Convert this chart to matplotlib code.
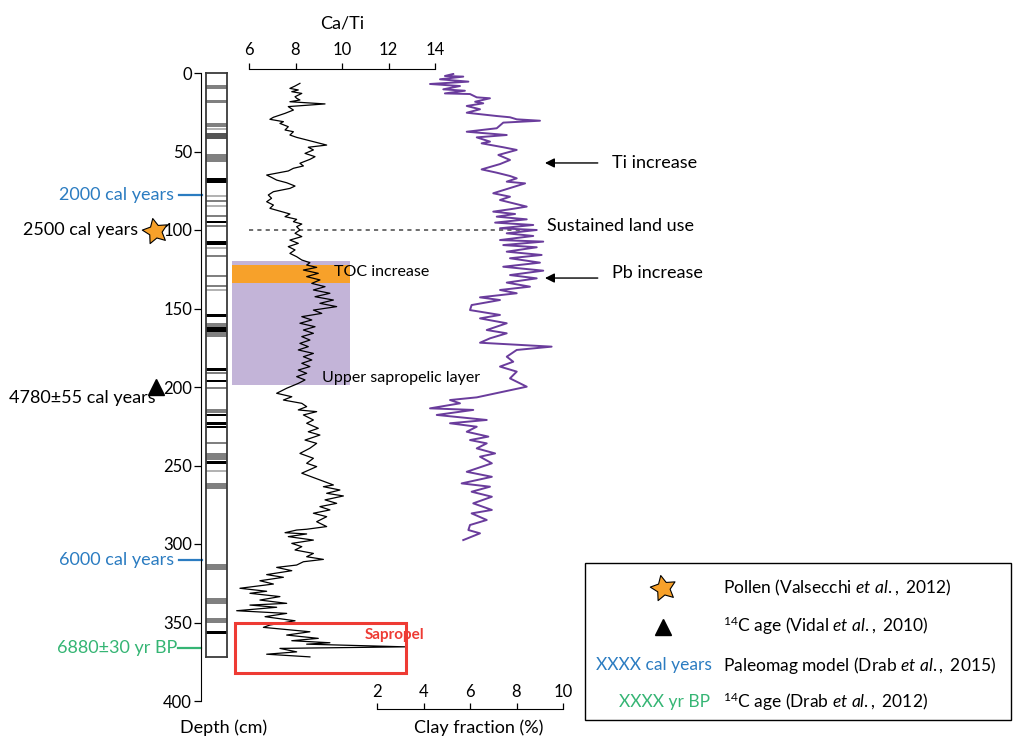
import matplotlib
matplotlib.use('Agg')
import matplotlib.pyplot as plt
import matplotlib.transforms as mtransforms
from matplotlib.patches import Rectangle
from matplotlib.path import Path
import numpy as np

plt.rcParams['font.family'] = ['Lato', 'DejaVu Sans']
plt.rcParams['mathtext.fontset'] = 'custom'
plt.rcParams['mathtext.rm'] = 'Lato'
plt.rcParams['mathtext.it'] = 'Lato:italic'

# Ca/Ti record (depth in cm, ratio)
cati_depth = [6.6, 8.3, 9.8, 10.8, 11.9, 13.0, 15.1, 16.1, 17.2, 18.3, 19.7, 21.4, 23.6, 25.7, 28.2, 29.5,
              31.0, 32.1, 34.2, 36.3, 37.4, 39.5, 41.0, 43.7, 45.9, 47.3, 49.0, 51.2, 53.3, 55.0, 57.5, 59.2,
              60.7, 62.4, 65.0, 66.5, 68.2, 69.9, 72.0, 73.5, 75.6, 77.7, 79.8, 82.0, 84.1, 86.2, 88.3, 89.8,
              91.5, 93.2, 94.7, 96.2, 97.9, 100.0, 102.1, 104.2, 106.4, 108.5, 110.6, 112.7, 114.9, 117.0,
              119.1, 120.8, 122.3, 123.8, 125.5, 127.6, 129.7, 131.8, 134.0, 136.1, 138.2, 140.3, 142.5,
              144.6, 146.7, 148.8, 151.0, 153.1, 155.2, 157.3, 159.4, 161.6, 163.7, 165.8, 167.9, 170.1,
              172.2, 174.3, 176.4, 178.6, 180.7, 182.8, 184.9, 187.0, 189.2, 191.3, 193.4, 195.5,
              197.7, 200.8, 204.0, 206.2, 208.3, 210.4, 212.5, 214.6, 215.7, 217.8, 221.0, 223.1, 226.3,
              228.5, 230.6, 233.8, 235.9, 239.0, 242.3, 245.4, 248.6, 250.7, 254.9, 259.2, 262.4, 263.5,
              265.6, 267.7, 269.4, 271.9, 274.1, 276.2, 278.3, 280.4, 282.6, 285.8, 288.9, 290.6, 291.1,
              292.8, 293.6, 295.3, 297.5, 299.6, 301.7, 303.8, 306.0, 308.1, 309.8, 311.3, 313.4, 314.9,
              317.0, 319.5, 321.2, 323.4, 325.5, 328.2, 330.1, 331.4, 333.5, 335.7, 337.8, 338.9, 340.3,
              342.5, 344.2, 346.3, 348.9, 351.6, 353.1, 355.9, 358.0, 360.1, 361.6, 362.9, 363.8, 365.5,
              366.5, 368.7, 370.2, 371.9]
cati_value = [8.19, 7.98, 7.76, 8.12, 7.84, 8.27, 7.98, 8.05, 8.19, 7.76, 9.27, 7.69, 7.91, 7.55, 7.05, 6.90,
              7.48, 7.33, 7.69, 7.55, 7.91, 7.76, 8.05, 8.77, 9.34, 8.55, 8.77, 8.41, 8.84, 8.62, 8.19, 8.34,
              7.91, 7.69, 6.76, 6.97, 7.19, 7.62, 7.98, 7.76, 7.05, 6.83, 6.97, 6.76, 7.05, 6.90, 7.40, 7.76,
              7.55, 8.05, 7.91, 8.27, 8.05, 8.19, 7.98, 8.27, 7.76, 8.12, 7.69, 7.98, 7.76, 8.05,
              8.27, 8.62, 8.48, 8.91, 8.34, 8.98, 8.48, 9.05, 8.70, 9.27, 8.77, 9.48, 8.84,
              9.63, 9.05, 9.77, 8.77, 9.13, 8.27, 8.70, 8.19, 8.84, 8.34, 8.77, 8.27, 8.62,
              8.19, 8.55, 8.12, 8.77, 8.34, 8.70, 8.27, 8.62, 8.12, 8.48, 8.05, 8.41,
              8.12, 7.62, 7.19, 7.84, 7.48, 8.27, 8.48, 8.12, 8.91, 8.34, 8.77, 8.48, 8.98,
              8.55, 9.05, 8.41, 8.91, 8.62, 8.19, 8.77, 8.48, 8.91, 8.27, 9.05, 9.63, 9.20,
              9.91, 9.34, 10.06, 9.27, 9.77, 9.05, 9.48, 8.77, 9.34, 8.91, 9.34, 8.48, 8.05,
              7.55, 8.48, 7.69, 8.77, 7.84, 8.27, 7.98, 8.77, 8.48, 9.20, 8.34, 8.05, 7.19,
              7.84, 6.76, 7.48, 6.47, 7.05, 5.61, 6.76, 6.04, 7.33, 6.47, 7.62, 6.04, 7.19,
              5.47, 7.62, 6.69, 7.98, 6.90, 6.62, 8.62, 7.62, 8.98, 7.84, 9.48, 8.48, 12.71,
              7.33, 8.05, 6.76, 8.62]

# Clay fraction record (depth in cm, %)
clay_depth = [0.6, 1.9, 2.3, 4.0, 5.5, 7.0, 8.3, 10.4, 11.3, 13.0, 13.4, 15.5, 16.1, 18.3, 19.3, 21.0,
              23.1, 25.3, 27.4, 28.2, 29.5, 30.4, 31.6, 35.2, 37.4, 39.5, 41.0, 43.7, 44.8, 47.3, 49.0,
              52.2, 55.4, 58.0, 61.4, 63.5, 65.6, 67.1, 69.2, 70.3, 76.6, 78.8, 80.9, 85.1, 86.8, 88.3,
              89.8, 91.5, 93.2, 95.3, 96.8, 98.9, 100.0, 102.1, 103.8, 106.4, 107.4, 109.6, 111.0, 113.8,
              115.9, 118.0, 120.8, 123.4, 125.9, 128.7, 130.8, 133.5, 136.1, 138.2, 140.3, 142.9, 144.6,
              147.8, 151.0, 154.1, 156.3, 159.4, 163.7, 165.8, 169.0, 171.8, 174.3, 176.4, 180.7, 183.9,
              187.0, 190.2, 194.5, 199.8, 206.6, 208.3, 210.4, 213.6, 214.6, 217.8, 221.0, 223.1, 225.3,
              228.5, 231.6, 233.8, 235.9, 239.1, 242.3, 244.4, 248.6, 254.0, 257.2, 261.4, 263.5, 266.7,
              269.9, 274.1, 278.3, 280.5, 284.7, 287.9, 291.1, 293.2, 297.5]
clay_value = [5.28, 4.92, 5.71, 4.71, 5.93, 4.28, 5.57, 4.85, 5.78, 4.92, 6.00, 6.29, 6.86, 6.22, 6.57, 5.86,
              6.43, 5.86, 7.15, 7.72, 8.01, 9.01, 7.43, 7.15, 5.86, 7.58, 6.29, 6.86, 6.50, 7.43, 8.01,
              7.22, 7.72, 7.29, 6.50, 7.15, 7.72, 8.01, 7.58, 8.37, 7.00, 7.72, 7.29, 8.44, 7.72, 7.00,
              7.94, 7.15, 8.44, 7.08, 8.72, 7.29, 8.87, 7.58, 8.72, 7.29, 9.15, 7.43, 8.87, 7.58,
              9.08, 7.72, 9.01, 7.43, 9.15, 7.72, 8.87, 7.58, 8.58, 7.29, 8.01, 6.43, 7.29,
              6.07, 6.00, 7.29, 6.43, 7.58, 6.72, 7.58, 6.86, 6.43, 9.51, 8.01, 7.58, 7.86,
              7.29, 8.01, 7.72, 8.44, 6.29, 5.14, 5.57, 4.28, 6.14, 4.57, 6.72, 5.14, 6.29,
              5.86, 6.79, 6.00, 6.72, 6.29, 7.08, 6.43, 6.94, 5.86, 6.94, 5.64, 6.86, 6.07,
              6.94, 6.14, 6.94, 6.07, 6.72, 6.00, 5.93, 6.43, 5.71]

# Lithology column bands (top, bottom in cm, kind)
band_top = [7.8, 17.2, 31.8, 35.0, 38.4, 51.6, 66.9, 77.5, 80.9, 83.9, 90.2, 94.0, 97.0, 107.2, 110.8,
            115.7, 128.5, 135.2, 137.4, 153.5, 159.0, 161.6, 165.0, 188.0, 190.5, 195.3, 200.0, 214.0,
            217.0, 222.5, 224.8, 235.2, 242.0, 247.1, 253.0, 261.1, 313.0, 334.6, 347.3, 355.4]
band_bot = [10.4, 18.9, 34.2, 36.3, 41.8, 56.7, 69.9, 78.8, 82.2, 85.2, 91.5, 95.7, 98.3, 109.3, 111.9,
            117.0, 129.8, 136.5, 138.7, 155.2, 161.6, 165.0, 168.0, 190.0, 191.5, 197.0, 201.3, 216.6,
            218.7, 224.2, 226.3, 236.5, 246.3, 249.2, 254.0, 265.0, 316.4, 338.0, 350.3, 357.5]
band_kind = ['g', 'g', 'g', 'lg', 'dg', 'g', 'k', 'lg', 'g', 'lg', 'g', 'k', 'g', 'k', 'lg',
             'g', 'g', 'g', 'lg', 'k', 'g', 'k', 'g', 'k', 'g', 'k', 'g', 'g',
             'k', 'k', 'k', 'g', 'g', 'k', 'lg', 'g', 'g', 'g', 'g', 'k']
band_colors = {'k': '#000000', 'dg': '#555555', 'g': '#808080', 'lg': '#b3b3b3'}
core_bottom = 372

# age markers (depth in cm, label)
paleomag_depth = [78, 310]
paleomag_label = ['2000 cal years', '6000 cal years']
c14_drab_depth = 366
c14_drab_label = '6880\u00b130 yr BP'
pollen_depth = 100.5
pollen_label = '2500 cal years'
c14_vidal_depth = 200
c14_vidal_label = '4780\u00b155 cal years'

BLUE = '#2b7cc1'
GREEN = '#35b574'
ORANGE = '#f7a12a'
LAVENDER = '#c3b4d8'
PURPLE = '#6a3c9c'
RED = '#ee3b34'

W, H = 1013, 736
FS = 13          # main annotation size
FS_TICK = 12


def fx(px):
    return px / W


def fy(py):
    return 1 - py / H


def star_path(inner=0.5, rot=12):
    ang = np.deg2rad(np.arange(10) * 36 + 90 + rot)
    r = np.where(np.arange(10) % 2 == 0, 1.0, inner)
    verts = np.column_stack([r * np.cos(ang), r * np.sin(ang)])
    verts = np.vstack([verts, verts[:1]])
    codes = [Path.MOVETO] + [Path.LINETO] * 9 + [Path.CLOSEPOLY]
    return Path(verts, codes)


STAR = star_path()

fig = plt.figure(figsize=(W / 100, H / 100), dpi=100)

# Ca/Ti axis: 23.25 px per unit, 6 at x=249 px
px_per_unit = 23.25
x_lo = 6 + (201 - 249) / px_per_unit
x_hi = 6 + (W - 249) / px_per_unit
clay_shift = 4 + (377 - 249) / px_per_unit  # clay = Ca/Ti - shift

ax = fig.add_axes([fx(201), fy(701), fx(W) - fx(201), fy(73) - fy(701)])
ax2 = ax.twiny()
ax.set_xlim(x_lo, x_hi)
ax.set_ylim(400, 0)
ax.patch.set_visible(False)
ax.spines['right'].set_visible(False)
ax.spines['bottom'].set_visible(False)
ax.spines['left'].set_bounds(0, 400)
ax.spines['top'].set_bounds(6, 14)
ax.spines['top'].set_position(('outward', 3))
ax.xaxis.tick_top()
ax.xaxis.set_label_position('top')
ax.set_xticks([6, 8, 10, 12, 14])
ax.set_yticks(range(0, 401, 50))
ax.tick_params(axis='x', direction='out', length=4.5, width=0.9, pad=3, labelsize=FS_TICK)
ax.tick_params(axis='y', direction='out', length=5, width=0.9, pad=1.5, labelsize=FS_TICK)
ax.set_xlabel('Ca/Ti', fontsize=FS, labelpad=10, x=(10 - x_lo) / (x_hi - x_lo))

# highlighted intervals
ax.add_patch(Rectangle((5.27, 120), 5.07, 79, facecolor=LAVENDER, edgecolor='none', zorder=0))
ax.add_patch(Rectangle((5.27, 122), 5.07, 12, facecolor=ORANGE, edgecolor='none', zorder=0.5))

ax.plot(cati_value, cati_depth, color='black', lw=0.9, zorder=2)

ax2.set_xlim(x_lo - clay_shift, x_hi - clay_shift)
ax2.axis('off')
ax2.plot(clay_value, clay_depth, color=PURPLE, lw=1.4, zorder=2)

# sustained land use line
ax.plot([6, 18.38], [100, 100], color='#555555', lw=1.2, ls=(0, (2.5, 2.5)), zorder=1)
ax.text(18.82, 97.5, 'Sustained land use', fontsize=FS, va='center', ha='left')
ax.text(9.66, 126.8, 'TOC increase', fontsize=11.5, va='center', ha='left')
ax.text(9.14, 194.3, 'Upper sapropelic layer', fontsize=11.5, va='center', ha='left')

for lbl, d_arrow, d_text in [('Ti increase', 57.3, 57.3), ('Pb increase', 130.6, 127.4)]:
    ax.annotate('', xy=(18.73, d_arrow), xytext=(21.0, d_arrow),
                arrowprops=dict(arrowstyle='-|>', color='black', lw=1, mutation_scale=14,
                                shrinkA=0, shrinkB=0))
    ax.text(21.61, d_text, lbl, fontsize=FS, va='center', ha='left')

# sapropel box
ax.add_patch(Rectangle((5.40, 350.3), 7.35, 31.9, fill=False, edgecolor=RED, lw=2.2, zorder=3,
                       clip_on=False))
ax.text(10.99, 358, 'Sapropel', color=RED, fontsize=11, va='center', ha='left', fontweight='bold')

# clay fraction axis at the bottom
axc = fig.add_axes([fx(201), fy(709), fx(W) - fx(201), 0.0005])
axc.set_xlim(x_lo - clay_shift, x_hi - clay_shift)
axc.patch.set_visible(False)
for s in ['top', 'left', 'right']:
    axc.spines[s].set_visible(False)
axc.spines['bottom'].set_bounds(2, 10)
axc.set_yticks([])
axc.set_xticks([2, 4, 6, 8, 10])
axc.xaxis.set_ticks_position('bottom')
axc.tick_params(axis='x', direction='in', length=4.5, width=0.9, labelbottom=False, labeltop=True,
                pad=6, labelsize=FS_TICK)
fig.text(fx(479), fy(719), 'Clay fraction (%)', fontsize=FS, ha='center', va='top')
fig.text(fx(180), fy(719), 'Depth (cm)', fontsize=FS, ha='left', va='top')

# lithology column
axl = fig.add_axes([fx(206), fy(657), fx(227) - fx(206), fy(73) - fy(657)])
axl.set_xlim(0, 1)
axl.set_ylim(core_bottom, 0)
axl.set_xticks([])
axl.set_yticks([])
for top, bot, kind in zip(band_top, band_bot, band_kind):
    axl.axhspan(top, bot, color=band_colors[kind], lw=0)
for s in axl.spines.values():
    s.set_color('#3a3a3a')
    s.set_linewidth(1.3)

# left-side age annotations
trans = mtransforms.blended_transform_factory(fig.transFigure, ax.transData)
for d, lbl in zip(paleomag_depth, paleomag_label):
    ax.plot([fx(179), fx(202)], [d, d], transform=trans, color=BLUE, lw=1.6, clip_on=False)
    ax.text(fx(174), d, lbl, transform=trans, color=BLUE, fontsize=FS, ha='right', va='center')
ax.plot([fx(178), fx(201)], [c14_drab_depth] * 2, transform=trans, color=GREEN, lw=1.6, clip_on=False)
ax.text(fx(177), c14_drab_depth, c14_drab_label, transform=trans, color=GREEN, fontsize=FS,
        ha='right', va='center')
ax.plot([fx(155)], [pollen_depth], transform=trans, marker=STAR, ms=19, mfc=ORANGE, mec='black',
        mew=0.8, clip_on=False, zorder=5)
ax.text(fx(138), pollen_depth - 0.5, pollen_label, transform=trans, fontsize=FS, ha='right', va='center')
ax.plot([fx(156)], [c14_vidal_depth], transform=trans, marker='^', ms=12, color='black', clip_on=False,
        zorder=5)
ax.text(fx(156), c14_vidal_depth + 7, c14_vidal_label, transform=trans, fontsize=FS, ha='right',
        va='center')

# legend box
axo = fig.add_axes([0, 0, 1, 1])
axo.set_xlim(0, W)
axo.set_ylim(H, 0)
axo.axis('off')
axo.add_patch(Rectangle((585, 563), 426, 157, fill=False, edgecolor='black', lw=1))
axo.plot([663], [588], marker=STAR, ms=19, mfc=ORANGE, mec='black', mew=0.8)
axo.plot([663], [627], marker='^', ms=12, color='black')
axo.text(712, 665, 'XXXX cal years', color=BLUE, fontsize=12.5, ha='right', va='center')
axo.text(710, 702, 'XXXX yr BP', color=GREEN, fontsize=12.5, ha='right', va='center')
legend_text = ['Pollen (Valsecchi $\\mathit{et\\ al.,}$ 2012)',
               '$^{14}$C age (Vidal $\\mathit{et\\ al.,}$ 2010)',
               'Paleomag model (Drab $\\mathit{et\\ al.,}$ 2015)',
               '$^{14}$C age (Drab $\\mathit{et\\ al.,}$ 2012)']
for i, t in enumerate(legend_text):
    axo.text(723, [588, 626, 665, 702][i], t, fontsize=12.5, ha='left', va='center')

fig.savefig('out.png', dpi=100)
